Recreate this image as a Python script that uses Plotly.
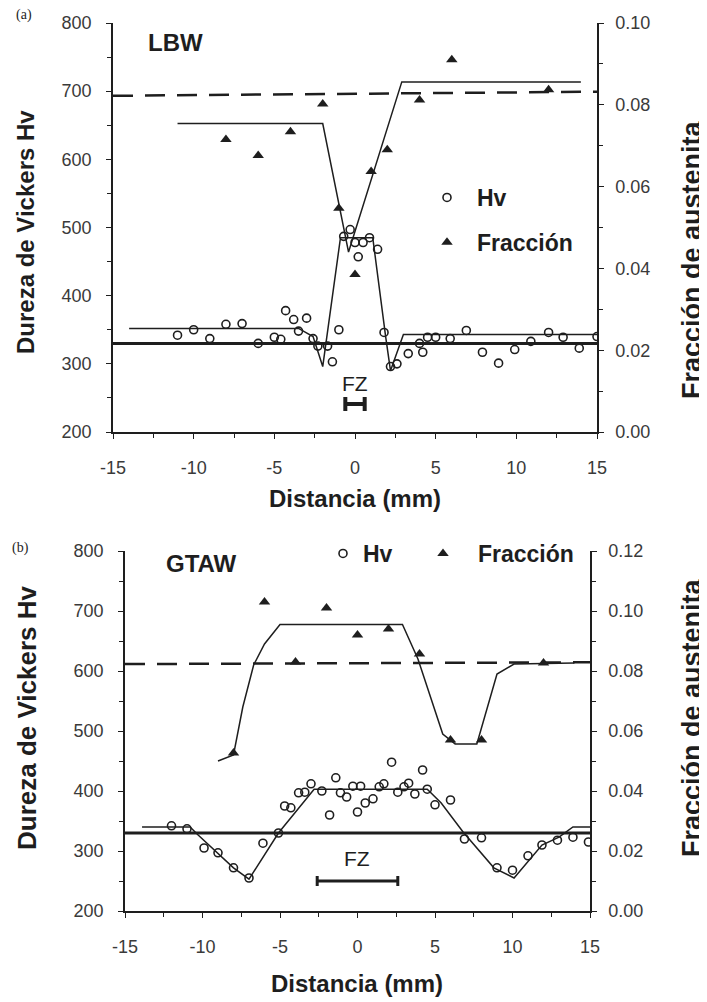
import plotly.graph_objects as go

# browser page has an 8px body margin: the figure is drawn from (8, 8)
OFF = 8
W, H = 707 - OFF, 1002 - OFF

# ---------------- data: panel (a) LBW ----------------
x_hv_a = [-11.0, -10.0, -9.0, -8.0, -7.0, -6.0, -5.0, -4.6, -4.3, -3.8, -3.5, -3.0, -2.6, -2.3,
          -1.7, -1.4, -1.0, -0.7, -0.3, 0.0, 0.2, 0.5, 0.9, 1.4, 1.8, 2.2, 2.6, 3.3, 4.0,
          4.2, 4.5, 5.0, 5.9, 6.9, 7.9, 8.9, 9.9, 10.9, 12.0, 12.9, 13.9, 15.0]
hv_a = [342, 350, 337, 358, 359, 330, 339, 336, 378, 365, 348, 367, 337, 326,
        326, 303, 350, 487, 497, 478, 457, 478, 485, 468, 346, 296, 300, 315, 330,
        317, 339, 339, 337, 349, 317, 301, 321, 333, 346, 339, 323, 340]
x_fr_a = [-8, -6, -4, -2, -1, 0, 1, 2, 4, 6, 12]
fr_a = [0.0715, 0.0676, 0.0734, 0.0802, 0.0547, 0.0385, 0.0637, 0.069, 0.0812, 0.091, 0.0837]
x_hvfit_a = [-14, -3.5, -2.6, -2.0, -0.9, 1.1, 1.9, 2.2, 3.0, 15]
hvfit_a = [352, 352, 340, 296, 485, 485, 340, 290, 343, 343]
x_frfit_a = [-11, -2.0, -0.4, 2.9, 14]
frfit_a = [0.0754, 0.0754, 0.044, 0.0856, 0.0856]
x_base_a = [-15, 15]
fr_base_a = [0.0822, 0.0832]
hv_ref_a = [330, 330]
fz_a_center, fz_a_half, fz_a_level = [0.0], [0.6], [241]

# ---------------- data: panel (b) GTAW ----------------
x_hv_b = [-12.0, -11.0, -9.9, -9.0, -8.0, -7.0, -6.1, -5.1, -4.7, -4.3, -3.8, -3.4, -3.0, -2.3,
          -1.8, -1.4, -1.1, -0.7, -0.3, 0.0, 0.2, 0.5, 1.0, 1.4, 1.7, 2.2, 2.6, 3.0, 3.3, 3.7,
          4.2, 4.5, 5.0, 6.0, 6.9, 8.0, 9.0, 10.0, 11.0, 11.9, 12.9, 13.9, 14.9]
hv_b = [342, 337, 305, 297, 272, 255, 313, 330, 375, 372, 397, 398, 412, 400,
        360, 422, 397, 390, 408, 365, 408, 380, 387, 407, 412, 448, 398, 407, 413, 395,
        435, 403, 377, 385, 320, 322, 272, 268, 292, 310, 318, 323, 315]
x_fr_b = [-8, -6, -4, -2, 0, 2, 4, 6, 8, 12]
fr_b = [0.0527, 0.103, 0.083, 0.101, 0.092, 0.094, 0.0857, 0.057, 0.057, 0.0827]
x_hvfit_b = [-13.9, -10.8, -10.3, -8.0, -7.0, -5.1, -2.8, 4.5, 5.4, 6.8, 8.8, 10.1, 11.9, 13.0, 13.9, 15.0]
hvfit_b = [340, 340, 327, 272, 253, 330, 403, 403, 380, 332, 272, 255, 310, 323, 340, 340]
x_frfit_b = [-9.0, -8.0, -7.4, -6.7, -6.0, -5.0, 2.9, 3.9, 5.5, 6.3, 7.7, 9.0, 10.1, 14.0]
frfit_b = [0.050, 0.052, 0.068, 0.082, 0.089, 0.0955, 0.0955, 0.084, 0.059, 0.0557, 0.0557, 0.079, 0.0823, 0.0827]
x_base_b = [-15, 15]
fr_base_b = [0.0823, 0.0829]
hv_ref_b = [330, 330]
fz_b_center, fz_b_half, fz_b_level = [0.0], [2.6], [250]

# ---------------- tick labels ----------------
x_tick_vals = [-15, -10, -5, 0, 5, 10, 15]
x_tick_text = ["-15", "-10", "-5", "0", "5", "10", "15"]
hv_tick_vals = [200, 300, 400, 500, 600, 700, 800]
hv_tick_text = ["200", "300", "400", "500", "600", "700", "800"]
fr_tick_vals_a = [0.00, 0.02, 0.04, 0.06, 0.08, 0.10]
fr_tick_text_a = ["0.00", "0.02", "0.04", "0.06", "0.08", "0.10"]
fr_tick_vals_b = [0.00, 0.02, 0.04, 0.06, 0.08, 0.10, 0.12]
fr_tick_text_b = ["0.00", "0.02", "0.04", "0.06", "0.08", "0.10", "0.12"]

INK = "#1e1e1e"
FONT = "Liberation Sans, Arial, sans-serif"


def px(xp):
    return (xp - OFF) / W


def py(yp):
    return 1 - (yp - OFF) / H


fig = go.Figure()


def add_panel(xa, ya, ya2, leg_hv, leg_fr, x_hv, hv, x_fr, fr, x_hvfit, hvfit, x_frfit, frfit,
              x_base, fr_base, hv_ref, fzc, fzh, fzl, capw, capt):
    fig.add_trace(go.Scatter(x=x_base, y=hv_ref, mode="lines", xaxis=xa, yaxis=ya,
                             line=dict(color=INK, width=3), showlegend=False, hoverinfo="skip"))
    fig.add_trace(go.Scatter(x=x_base, y=fr_base, mode="lines", xaxis=xa, yaxis=ya2,
                             line=dict(color=INK, width=2.5, dash="20px,12px"),
                             showlegend=False, hoverinfo="skip"))
    fig.add_trace(go.Scatter(x=x_hvfit, y=hvfit, mode="lines", xaxis=xa, yaxis=ya,
                             line=dict(color=INK, width=1.5), showlegend=False))
    fig.add_trace(go.Scatter(x=x_frfit, y=frfit, mode="lines", xaxis=xa, yaxis=ya2,
                             line=dict(color=INK, width=1.5), showlegend=False))
    fig.add_trace(go.Scatter(x=fzc, y=fzl, mode="markers", xaxis=xa, yaxis=ya,
                             marker=dict(size=1, color="rgba(0,0,0,0)"),
                             error_x=dict(type="data", array=fzh, width=capw, thickness=capt, color=INK),
                             showlegend=False, hoverinfo="skip"))
    fig.add_trace(go.Scatter(x=x_hv, y=hv, mode="markers", xaxis=xa, yaxis=ya, name="Hv",
                             legend=leg_hv, legendgroup=leg_hv + "hv",
                             marker=dict(symbol="circle-open", size=8, color=INK, line=dict(width=1.6))))
    fig.add_trace(go.Scatter(x=x_fr, y=fr, mode="markers", xaxis=xa, yaxis=ya2, name="Fracción",
                             legend=leg_fr, legendgroup=leg_fr + "fr",
                             marker=dict(symbol="triangle-up", size=10, color=INK)))


add_panel("x", "y", "y2", "legend", "legend", x_hv_a, hv_a, x_fr_a, fr_a, x_hvfit_a, hvfit_a,
          x_frfit_a, frfit_a, x_base_a, fr_base_a, hv_ref_a, fz_a_center, fz_a_half, fz_a_level, 7, 4)
add_panel("x2", "y3", "y4", "legend2", "legend3", x_hv_b, hv_b, x_fr_b, fr_b, x_hvfit_b, hvfit_b,
          x_frfit_b, frfit_b, x_base_b, fr_base_b, hv_ref_b, fz_b_center, fz_b_half, fz_b_level, 5, 3)

tickfont = dict(family=FONT, size=18, color="#3a3a3a")
common = dict(showline=True, linecolor=INK, linewidth=1.5, showgrid=False, zeroline=False,
              ticks="outside", ticklen=5, tickwidth=1.3, tickcolor=INK, tickfont=tickfont,
              automargin=False, fixedrange=True)


def xaxis(dom, anchor):
    return dict(domain=dom, anchor=anchor, range=[-15, 15], tickmode="array",
                tickvals=x_tick_vals, ticktext=x_tick_text, ticklabelstandoff=14,
                minor=dict(tickmode="linear", tick0=0, dtick=2.5, ticks="outside", ticklen=4,
                           tickcolor=INK, tickwidth=1.2),
                **common)


def hvaxis(dom, anchor):
    return dict(domain=dom, anchor=anchor, range=[200, 800], tickmode="array",
                tickvals=hv_tick_vals, ticktext=hv_tick_text, ticklabelstandoff=11,
                minor=dict(tickmode="linear", tick0=0, dtick=50, ticks="outside", ticklen=4,
                           tickcolor=INK, tickwidth=1.2),
                **common)


def fraxis(over, anchor, rng, vals, text):
    return dict(overlaying=over, anchor=anchor, side="right", range=rng, tickmode="array",
                tickvals=vals, ticktext=text, ticklabelstandoff=8,
                minor=dict(tickmode="linear", tick0=0, dtick=0.01, ticks="outside", ticklen=4,
                           tickcolor=INK, tickwidth=1.2),
                **common)


top_dom_x = [px(113), px(597)]
top_dom_y = [py(432), py(23)]
bot_dom_x = [px(125), px(590)]
bot_dom_y = [py(911), py(551)]

annotations = []


def ann(text, xp_, yp_, size=24, angle=0, family=FONT, bold=True, color=INK):
    annotations.append(dict(text=("<b>%s</b>" % text) if bold else text, x=px(xp_), y=py(yp_),
                            xref="paper", yref="paper", showarrow=False, textangle=angle,
                            xanchor="center", yanchor="middle",
                            font=dict(family=family, size=size, color=color)))


ann("(a)", 24, 15, size=14, family="Liberation Serif, serif", bold=False)
ann("(b)", 20, 548, size=14, family="Liberation Serif, serif", bold=False)
ann("LBW", 175, 42, size=24)
ann("GTAW", 201, 563, size=24)
ann("FZ", 355, 383, size=21, bold=False)
ann("FZ", 357, 858, size=21, bold=False)
ann("Dureza de Vickers Hv", 25, 232, angle=-90)
ann("Fracción de austenita", 692, 260, size=27, angle=-90)
ann("Distancia (mm)", 355, 498)
ann("Dureza de Vickers Hv", 27, 718, size=26, angle=-90)
ann("Fracción de austenita", 692, 718, size=27, angle=-90)
ann("Distancia (mm)", 357, 983)

legfont = dict(family=FONT, size=23, color=INK, weight="bold")
legbase = dict(xanchor="left", yanchor="top", font=legfont, bgcolor="rgba(255,255,255,0)")

fig.update_layout(
    width=W, height=H, margin=dict(l=0, r=0, t=0, b=0),
    paper_bgcolor="white", plot_bgcolor="white",
    xaxis=xaxis(top_dom_x, "y"),
    yaxis=hvaxis(top_dom_y, "x"),
    yaxis2=fraxis("y", "x", [0, 0.10], fr_tick_vals_a, fr_tick_text_a),
    xaxis2=xaxis(bot_dom_x, "y3"),
    yaxis3=hvaxis(bot_dom_y, "x2"),
    yaxis4=fraxis("y3", "x2", [0, 0.12], fr_tick_vals_b, fr_tick_text_b),
    legend=dict(x=px(417), y=py(176), traceorder="grouped", tracegroupgap=12,
                itemwidth=50, **legbase),
    legend2=dict(x=px(323), y=py(532), itemwidth=30, **legbase),
    legend3=dict(x=px(408), y=py(532), itemwidth=60, **legbase),
    annotations=annotations,
    showlegend=True,
)

fig.write_html("out.html")
